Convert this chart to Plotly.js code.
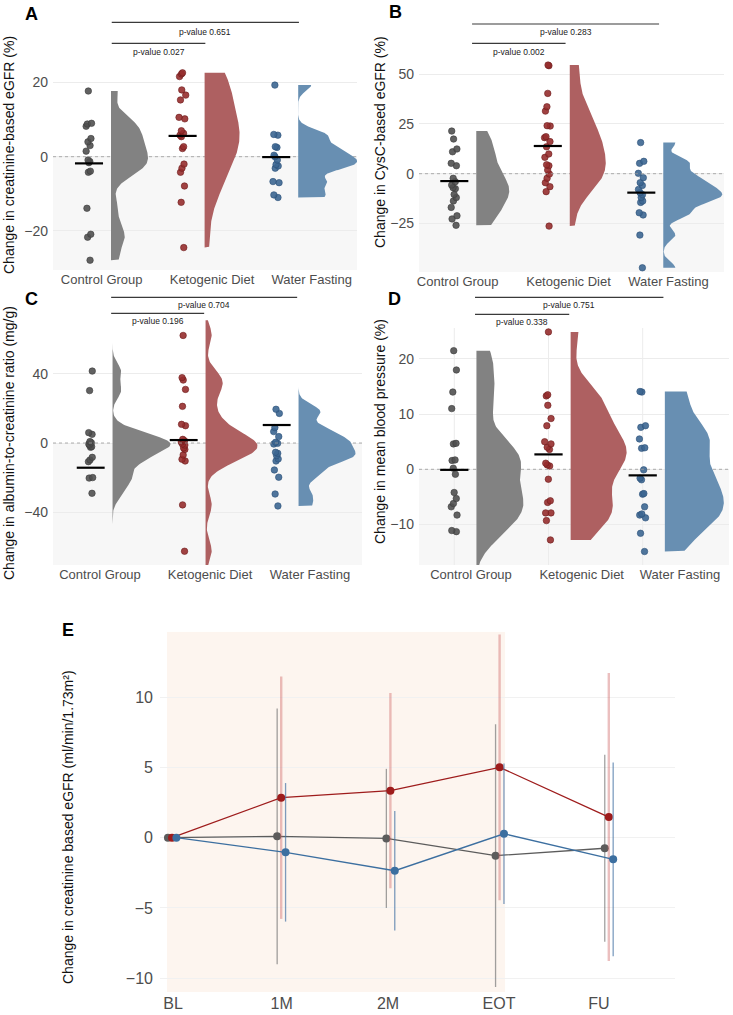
<!DOCTYPE html>
<html><head><meta charset="utf-8">
<script src="https://cdn.plot.ly/plotly-3.0.1.min.js"></script>
<style>html,body{margin:0;padding:0;background:#fff}#chart{width:733px;height:1015px}</style>
</head><body><div id="chart"></div>
<script>
// ---------------- DATA ----------------
const groups = ["Control Group", "Ketogenic Diet", "Water Fasting"];

// Panel A: change in creatinine-based eGFR (%)
const A_control = [17.7, 9.0, 8.8, 8.2, 4.9, 4.0, 3.0, 1.5, -0.9, -1.3, -1.6, -3.9, -4.2, -13.9, -20.9, -21.7, -27.9];
const A_keto = [22.6, 22.3, 21.6, 18.0, 16.6, 15.3, 10.6, 10.2, 7.0, 6.3, 5.8, 5.4, 2.7, 2.2, -2.0, -3.1, -4.2, -7.9, -12.3, -24.5];
const A_water = [19.3, 6.0, 5.8, 2.7, 2.5, 0.4, 0.0, -0.9, -2.1, -2.5, -3.1, -6.7, -7.0, -10.3, -11.0];
const A_center = [-1.8, 5.6, -0.1];
const A_pvalues = ["0.027", "0.651"];

// Panel B: change in CysC-based eGFR (%)
const B_control = [21.4, 17.4, 12.4, 11.0, 5.2, 4.0, -2.3, -4.0, -5.7, -7.0, -7.5, -10.4, -12.0, -13.7, -16.9, -21.1, -22.7, -25.9];
const B_keto = [54.5, 54.2, 40.3, 33.6, 31.4, 24.1, 23.9, 18.6, 18.1, 16.1, 13.5, 9.9, 8.2, 4.5, 4.0, 1.8, -0.2, -2.3, -4.5, -6.5, -9.0, -26.3];
const B_water = [15.6, 6.2, 5.2, 0.2, -2.0, -4.5, -5.9, -7.9, -9.5, -10.5, -11.9, -13.7, -14.4, -19.6, -20.7, -30.8, -47.2];
const B_center = [-3.7, 13.9, -9.5];
const B_pvalues = ["0.002", "0.283"];

// Panel C: change in albumin-to-creatinine ratio (mg/g)
const C_control = [41.6, 30.3, 6.0, 5.0, 0.8, 0.2, -0.6, -1.2, -2.1, -2.5, -8.3, -9.8, -10.8, -20.0, -20.3, -29.1];
const C_keto = [62.2, 37.8, 36.4, 31.0, 21.2, 10.8, 10.0, 2.1, 1.3, 0.6, -0.6, -1.2, -2.9, -3.7, -6.9, -9.4, -10.4, -35.8, -62.6];
const C_water = [19.5, 17.1, 8.9, 6.6, 3.7, 0.4, -0.2, -0.6, -5.4, -6.0, -7.3, -9.2, -10.4, -15.6, -19.8, -29.5, -36.4];
const C_center = [-14.3, 1.7, 10.4];
const C_pvalues = ["0.196", "0.704"];

// Panel D: change in mean blood pressure (%)
const D_control = [21.5, 18.0, 14.0, 11.0, 4.7, 4.6, 1.7, 1.6, 0.2, -0.9, -4.2, -5.3, -6.2, -6.8, -8.3, -11.1, -11.3];
const D_keto = [24.9, 13.5, 13.3, 11.6, 9.2, 7.9, 5.0, 4.6, 4.0, 3.6, 1.1, 0.8, 0.6, -1.8, -5.7, -6.0, -7.9, -7.9, -9.3, -12.8];
const D_water = [14.1, 14.0, 7.9, 7.6, 5.5, 3.9, 3.8, -0.1, -1.6, -1.9, -4.4, -4.5, -6.8, -8.1, -8.3, -8.8, -11.6, -14.9];
const D_center = [-0.1, 2.7, -1.1];
const D_pvalues = ["0.338", "0.751"];

// Panel E: change in creatinine based eGFR over time
const E_timepoints = ["BL", "1M", "2M", "EOT", "FU"];
const E_control = [0, 0.1, -0.05, -1.28, -0.75];
const E_control_err = [0, 9.1, 4.95, 9.35, 6.65];
const E_keto = [0, 2.85, 3.35, 5.01, 1.47];
const E_keto_err = [0, 8.63, 6.95, 9.46, 10.25];
const E_water = [0, -1.04, -2.35, 0.28, -1.54];
const E_water_err = [0, 4.93, 4.25, 5.0, 6.9];

// ---------------- STYLE / LAYOUT CONFIG ----------------
const W = 733, H = 1015;
const FONT = '"Liberation Sans", Arial, Helvetica, sans-serif';
const VIOLIN_FILL = ['rgb(130,130,130)', 'rgb(174,96,97)', 'rgb(104,143,178)'];
const POINT_FILL = ['rgba(80,80,80,0.9)', 'rgba(150,45,45,0.9)', 'rgba(60,102,145,0.9)'];
const POINT_LINE = ['#3c3c3c', '#6e1c1c', '#2c5078'];
const E_LINE = ['#5c5c5c', '#9e1c1c', '#3c6fa0'];
const E_ERR = ['rgba(110,110,110,0.65)', 'rgba(205,95,95,0.4)', 'rgba(70,115,165,0.7)'];
const E_ERR_W = [1.3, 2.4, 1.3];

const panelCfg = [
  {key:'A', title:'Change in creatinine-based eGFR (%)', xpx:[53,357], ypx:[65,270], x1px:89, unit:93.6, y0px:156.7, ppu:3.71,
   tickPx:[101.7,212,311.7], yticks:[-20,0,20], letter:[31,14], titlePos:[9,155], brOff:0.243, brLines:[43.3,22.3], brTexts:[52.3,31.7], vgrid:false,
   spans:null, adjust:[0.85,1,0.55], maxPx:[37,35,59]},
  {key:'B', title:'Change in CysC-based eGFR (%)', xpx:[419,724], ypx:[60,272], x1px:454.3, unit:93.5, y0px:173.7, ppu:1.993,
   tickPx:[457.7,568.5,668.5], yticks:[-25,0,25,50], letter:[395,12], titlePos:[380,142], brOff:0.19, brLines:[43.3,24], brTexts:[52.3,31.7], vgrid:false,
   spans:null, adjust:[1,1,0.62], maxPx:[33,36,59]},
  {key:'C', title:'Change in albumin-to-creatinine ratio (mg/g)', xpx:[53,362], ypx:[318,565], x1px:90.7, unit:93, y0px:443, ppu:1.729,
   tickPx:[100,210,310], yticks:[-40,0,40], letter:[31,299], titlePos:[9,443], brOff:0.22, brLines:[313.3,297.3], brTexts:[321,305], vgrid:false,
   spans:[[-47,58],[-72,71],[-36.4,32.6]], adjust:[1,0.8,0.7], maxPx:[58,52,57]},
  {key:'D', title:'Change in mean blood pressure (%)', xpx:[419,729], ypx:[328,565], x1px:454.3, unit:94.2, y0px:469.3, ppu:5.517,
   tickPx:[471,581.7,680], yticks:[-10,0,10,20], letter:[394.5,299], titlePos:[380,432], brOff:0.22, brLines:[314.3,297.3], brTexts:[322.3,305], vgrid:true,
   spans:[[-18.5,21.5],null,null], adjust:[0.75,0.75,0.75], maxPx:[47,56,59]}
];
const panelData = [
  {groups:[A_control, A_keto, A_water], centers:A_center, p:A_pvalues},
  {groups:[B_control, B_keto, B_water], centers:B_center, p:B_pvalues},
  {groups:[C_control, C_keto, C_water], centers:C_center, p:C_pvalues},
  {groups:[D_control, D_keto, D_water], centers:D_center, p:D_pvalues}
];
const eCfg = {xpx:[160,675], ypx:[631.7,992], x1px:172, unit:109.2, y0px:837.7, ppu:14.05,
  tickPx:[173,281.7,388,499,599], yticks:[-10,-5,0,5,10], dodge:[-0.037,0,0.04], rect:[0.954,4.05], letter:[67.5,630], titlePos:[68,827]};
const VIOLIN_OFF = 0.235, CENTER_HALF = 0.15;

// ---------------- HELPERS ----------------
function nrd0(v) {
  const n = v.length, s = [...v].sort((a,b)=>a-b);
  const mean = v.reduce((a,b)=>a+b,0)/n;
  const sd = Math.sqrt(v.reduce((a,b)=>a+(b-mean)*(b-mean),0)/(n-1));
  const q = p => { const h=(n-1)*p, l=Math.floor(h); return s[l] + (h-l)*(s[Math.min(l+1,n-1)]-s[l]); };
  let lo = Math.min(sd, (q(0.75)-q(0.25))/1.34);
  if (!(lo > 0)) lo = sd || 1;
  return 0.9*lo*Math.pow(n,-0.2);
}
function kde(v, bw, lo, hi, m) {
  const ys=[], ds=[];
  for (let i=0;i<=m;i++) {
    const y = lo + (hi-lo)*i/m; let d = 0;
    for (const x of v) { const z=(y-x)/bw; d += Math.exp(-0.5*z*z); }
    ys.push(y); ds.push(d/(v.length*bw*Math.sqrt(2*Math.PI)));
  }
  return {ys, ds};
}
const px = p => p/W, py = p => 1 - p/H;

// ---------------- BUILD ----------------
const traces = [], shapes = [], annotations = [];
const layout = {width:W, height:H, margin:{l:0,r:0,t:0,b:0}, paper_bgcolor:'#ffffff', plot_bgcolor:'#ffffff',
  showlegend:false, boxmode:'overlay', font:{family:FONT, color:'#222'}, hovermode:false};

panelCfg.forEach((cfg, i) => {
  const n = i+1, xa='x'+n, ya='y'+n, pd = panelData[i];
  const xr = [1 + (cfg.xpx[0]-cfg.x1px)/cfg.unit, 1 + (cfg.xpx[1]-cfg.x1px)/cfg.unit];
  const yr = [(cfg.y0px - cfg.ypx[1])/cfg.ppu, (cfg.y0px - cfg.ypx[0])/cfg.ppu];
  layout['xaxis'+n] = {domain:[px(cfg.xpx[0]), px(cfg.xpx[1])], range:xr, type:'linear', anchor:ya,
    tickvals:cfg.tickPx.map(p=>1+(p-cfg.x1px)/cfg.unit), ticktext:groups, showgrid:false, zeroline:false, showline:false,
    ticks:'', tickfont:{size:13, color:'#4d4d4d', family:FONT}, fixedrange:true};
  layout['yaxis'+n] = {domain:[py(cfg.ypx[1]), py(cfg.ypx[0])], range:yr, type:'linear', anchor:xa,
    tickvals:cfg.yticks, showgrid:true, gridcolor:'#ececec', gridwidth:1, zeroline:false, showline:false,
    ticks:'', ticklabelstandoff:4, tickfont:{size:14, color:'#4d4d4d', family:FONT}, fixedrange:true};

  // shaded negative half
  shapes.push({type:'rect', xref:xa, x0:xr[0], x1:xr[1], yref:ya, y0:yr[0], y1:0, fillcolor:'#f7f7f7', line:{width:0}, layer:'below'});
  if (cfg.vgrid) [1,2,3].forEach(g => shapes.push({type:'line', xref:xa, x0:g, x1:g, yref:ya, y0:yr[0], y1:yr[1], line:{color:'#ececec', width:1}, layer:'below'}));
  // dotted zero reference line (drawn first so violins cover it)
  traces.push({type:'scatter', mode:'lines', x:xr, y:[0,0], line:{color:'#9a9a9a', width:0.8, dash:'dot'}, xaxis:xa, yaxis:ya, hoverinfo:'skip'});

  // half violins (each scaled to its own maximum width)
  pd.groups.forEach((v,g) => {
    const sp = (cfg.spans && cfg.spans[g]) || [Math.min(...v), Math.max(...v)];
    const d = kde(v, nrd0(v)*cfg.adjust[g], sp[0], sp[1], 240);
    const scale = (cfg.maxPx[g]/cfg.unit)/Math.max(...d.ds);
    const base = (g+1) + VIOLIN_OFF;
    const xs=[base], ys=[d.ys[0]];
    d.ds.forEach((dv,k) => { xs.push(base + dv*scale); ys.push(d.ys[k]); });
    xs.push(base); ys.push(d.ys[d.ys.length-1]);
    traces.push({type:'scatter', mode:'lines', x:xs, y:ys, fill:'toself', fillcolor:VIOLIN_FILL[g],
      line:{width:0, color:VIOLIN_FILL[g]}, xaxis:xa, yaxis:ya, hoverinfo:'skip'});
  });
  // jittered points
  pd.groups.forEach((v,g) => {
    traces.push({type:'box', y:v, x0:g+1, width:0.12, boxpoints:'all', jitter:0.7, pointpos:0,
      fillcolor:'rgba(0,0,0,0)', line:{width:0, color:'rgba(0,0,0,0)'}, whiskerwidth:0,
      marker:{size:6.5, color:POINT_FILL[g], line:{width:0.6, color:POINT_LINE[g]}},
      xaxis:xa, yaxis:ya, hoverinfo:'skip'});
  });
  // center lines
  pd.centers.forEach((c,g) => {
    traces.push({type:'scatter', mode:'lines', x:[g+1-CENTER_HALF, g+1+CENTER_HALF], y:[c,c],
      line:{color:'#000', width:2.2}, xaxis:xa, yaxis:ya, hoverinfo:'skip'});
  });
  // significance brackets
  [[1,2],[1,3]].forEach((pair, k) => {
    const x0 = pair[0]+cfg.brOff, x1 = pair[1]+cfg.brOff;
    shapes.push({type:'line', xref:xa, x0:x0, x1:x1, yref:'paper', y0:py(cfg.brLines[k]), y1:py(cfg.brLines[k]),
      line:{color:'#3a3a3a', width:1.2}, layer:'above'});
    annotations.push({xref:xa, x:(x0+x1)/2, yref:'paper', y:py(cfg.brTexts[k]), text:'p-value '+pd.p[k],
      showarrow:false, xanchor:'center', yanchor:'middle', font:{size:8.5, color:'#222', family:FONT}});
  });
  // panel letter and y title
  annotations.push({xref:'paper', yref:'paper', x:px(cfg.letter[0]), y:py(cfg.letter[1]), text:'<b>'+cfg.key+'</b>',
    showarrow:false, xanchor:'center', yanchor:'middle', font:{size:18, color:'#000', family:FONT}});
  annotations.push({xref:'paper', yref:'paper', x:px(cfg.titlePos[0]), y:py(cfg.titlePos[1]), text:cfg.title, textangle:-90,
    showarrow:false, xanchor:'center', yanchor:'middle', font:{size:14, color:'#111', family:FONT}});
});

// ---------------- PANEL E ----------------
(function(){
  const xa='x5', ya='y5', cfg=eCfg;
  const xr = [1 + (cfg.xpx[0]-cfg.x1px)/cfg.unit, 1 + (cfg.xpx[1]-cfg.x1px)/cfg.unit];
  const yr = [(cfg.y0px - cfg.ypx[1])/cfg.ppu, (cfg.y0px - cfg.ypx[0])/cfg.ppu];
  layout.xaxis5 = {domain:[px(cfg.xpx[0]), px(cfg.xpx[1])], range:xr, type:'linear', anchor:ya,
    tickvals:cfg.tickPx.map(p=>1+(p-cfg.x1px)/cfg.unit), ticktext:E_timepoints, showgrid:false, zeroline:false, showline:false,
    ticks:'', tickfont:{size:16, color:'#4d4d4d', family:FONT}, fixedrange:true};
  layout.yaxis5 = {domain:[py(cfg.ypx[1]), py(cfg.ypx[0])], range:yr, type:'linear', anchor:xa,
    tickvals:cfg.yticks, showgrid:true, gridcolor:'#f1f1f1', gridwidth:1, zeroline:false, showline:false,
    ticks:'', ticklabelstandoff:6, tickfont:{size:16, color:'#4d4d4d', family:FONT}, fixedrange:true};
  shapes.push({type:'rect', xref:xa, x0:cfg.rect[0], x1:cfg.rect[1], yref:ya, y0:yr[0], y1:yr[1],
    fillcolor:'#fdf5ef', line:{width:0}, layer:'below'});
  const series = [[E_control, E_control_err], [E_keto, E_keto_err], [E_water, E_water_err]];
  series.forEach((s, g) => {
    traces.push({type:'scatter', mode:'lines+markers', x:E_timepoints.map((t,k)=>k+1+cfg.dodge[g]), y:s[0],
      line:{color:E_LINE[g], width:1.3}, marker:{size:8, color:E_LINE[g]},
      error_y:{type:'data', array:s[1], symmetric:true, visible:true, color:E_ERR[g], thickness:E_ERR_W[g], width:0},
      xaxis:xa, yaxis:ya, hoverinfo:'skip'});
  });
  annotations.push({xref:'paper', yref:'paper', x:px(cfg.letter[0]), y:py(cfg.letter[1]), text:'<b>E</b>',
    showarrow:false, xanchor:'center', yanchor:'middle', font:{size:18, color:'#000', family:FONT}});
  annotations.push({xref:'paper', yref:'paper', x:px(cfg.titlePos[0]), y:py(cfg.titlePos[1]),
    text:'Change in creatinine based eGFR (ml/min/1.73m²)', textangle:-90,
    showarrow:false, xanchor:'center', yanchor:'middle', font:{size:14, color:'#111', family:FONT}});
})();

layout.shapes = shapes;
layout.annotations = annotations;
Plotly.newPlot('chart', traces, layout, {staticPlot:true, displayModeBar:false});
</script>
</body></html>
